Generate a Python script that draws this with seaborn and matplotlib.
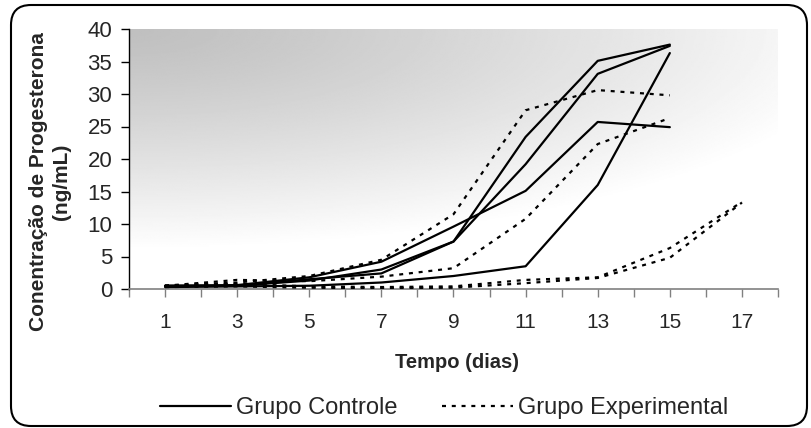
import numpy as np
import pandas as pd
import matplotlib
matplotlib.use("Agg")
import matplotlib.pyplot as plt
import seaborn as sns
from matplotlib.lines import Line2D
from matplotlib.patches import FancyBboxPatch
from matplotlib.transforms import IdentityTransform

# ==========================
# DATA
# ==========================
dias = [1, 3, 5, 7, 9, 11, 13, 15]
dias_longo = [1, 3, 5, 7, 9, 11, 13, 15, 17]

controle_1 = [0.5, 0.5, 1.5, 2.4, 7.3, 23.4, 35.1, 37.6]
controle_2 = [0.4, 0.5, 1.3, 3.0, 7.3, 19.2, 33.1, 37.4]
controle_3 = [0.5, 0.6, 1.8, 4.2, 9.6, 15.1, 25.7, 24.9]
controle_4 = [0.3, 0.4, 0.5, 1.0, 2.0, 3.5, 16.0, 36.3]

experimental_1 = [0.5, 1.0, 2.0, 4.5, 11.5, 27.5, 30.6, 29.8]
experimental_2 = [0.5, 1.4, 1.2, 1.9, 3.2, 10.8, 22.3, 26.3]
experimental_3 = [0.5, 0.8, 0.4, 0.3, 0.4, 1.4, 1.8, 6.3, 13.4]
experimental_4 = [0.3, 0.4, 0.2, 0.1, 0.2, 0.9, 1.7, 4.8, 13.3]

x_labels = ["1", "3", "5", "7", "9", "11", "13", "15", "17"]

series = [
    ("Controle", "C1", dias, controle_1),
    ("Controle", "C2", dias, controle_2),
    ("Controle", "C3", dias, controle_3),
    ("Controle", "C4", dias, controle_4),
    ("Experimental", "E1", dias, experimental_1),
    ("Experimental", "E2", dias, experimental_2),
    ("Experimental", "E3", dias_longo, experimental_3),
    ("Experimental", "E4", dias_longo, experimental_4),
]

rows = []
for grupo, animal, xs, ys in series:
    for d, v in zip(xs, ys):
        rows.append({"grupo": grupo, "animal": animal, "dia": d, "valor": v})
df = pd.DataFrame(rows)

# ==========================
# FIGURE
# ==========================
sns.set_style("white")
plt.rcParams["font.family"] = ["Liberation Sans", "DejaVu Sans"]

fig = plt.figure(figsize=(8.11, 4.28), dpi=100)
ax = fig.add_axes([129 / 811, 139 / 428, 649 / 811, 260 / 428])

# gradient background (gray top-left -> white)
u = np.linspace(0, 1, 400)
v = np.linspace(0, 1, 200)
U, V = np.meshgrid(u, v)
dist = np.clip(np.sqrt((U / 1.15) ** 2 + (V / 0.85) ** 2), 0, 1)
grad = 0.75 + 0.25 * dist ** 1.2
ax.imshow(grad, extent=[0, 18, 0, 40], origin="upper", aspect="auto",
          cmap="gray", vmin=0, vmax=1, zorder=0, interpolation="bilinear")

sns.lineplot(
    data=df, x="dia", y="valor", hue="grupo", style="grupo",
    units="animal", estimator=None, sort=False,
    palette={"Controle": "black", "Experimental": "black"},
    dashes={"Controle": "", "Experimental": (1.8, 2.6)},
    linewidth=1.6, legend=False, ax=ax, zorder=3
)

ax.set_xlim(0, 18)
ax.set_ylim(0, 40)
ax.set_xticks(range(0, 19))
ax.set_xticklabels([str(d) if str(d) in x_labels else "" for d in range(0, 19)])
ax.set_yticks(range(0, 45, 5))
ax.set_xlabel("")
ax.set_ylabel("")

for s in ["top", "right"]:
    ax.spines[s].set_visible(False)
ax.spines["left"].set_color("black")
ax.spines["left"].set_linewidth(1.0)
ax.spines["bottom"].set_color("#808080")
ax.spines["bottom"].set_linewidth(1.2)

ax.tick_params(axis="x", direction="out", length=6, width=1, color="#808080",
               labelsize=15, pad=11, bottom=True)
ax.tick_params(axis="y", direction="out", length=6, width=1, color="black",
               labelsize=16, pad=6, left=True)

# labels
fig.text(50 / 811, 1 - 182 / 428, "Conentração de Progesterona\n(ng/mL)",
         rotation=90, ha="center", va="center", fontsize=15,
         fontweight="bold", multialignment="center", linespacing=1.25)
fig.text(457 / 811, 1 - 363 / 428, "Tempo (dias)", ha="center", va="center",
         fontsize=14.5, fontweight="bold")

# legend
handles = [
    Line2D([0], [0], color="black", lw=1.6),
    Line2D([0], [0], color="black", lw=1.6, dashes=(1.8, 2.6)),
]
fig.legend(handles, ["Grupo Controle", "Grupo Experimental"],
           loc="center", bbox_to_anchor=(444 / 811, 1 - 408 / 428), ncol=2,
           frameon=False, fontsize=17, handlelength=3.0, handletextpad=0.2,
           columnspacing=1.9)

# rounded border
border = FancyBboxPatch((11, 2), 796, 421,
                        boxstyle="round,pad=0,rounding_size=20",
                        transform=IdentityTransform(), fill=False,
                        ec="black", lw=1.5)
fig.add_artist(border)

fig.savefig("out.png", dpi=100)
